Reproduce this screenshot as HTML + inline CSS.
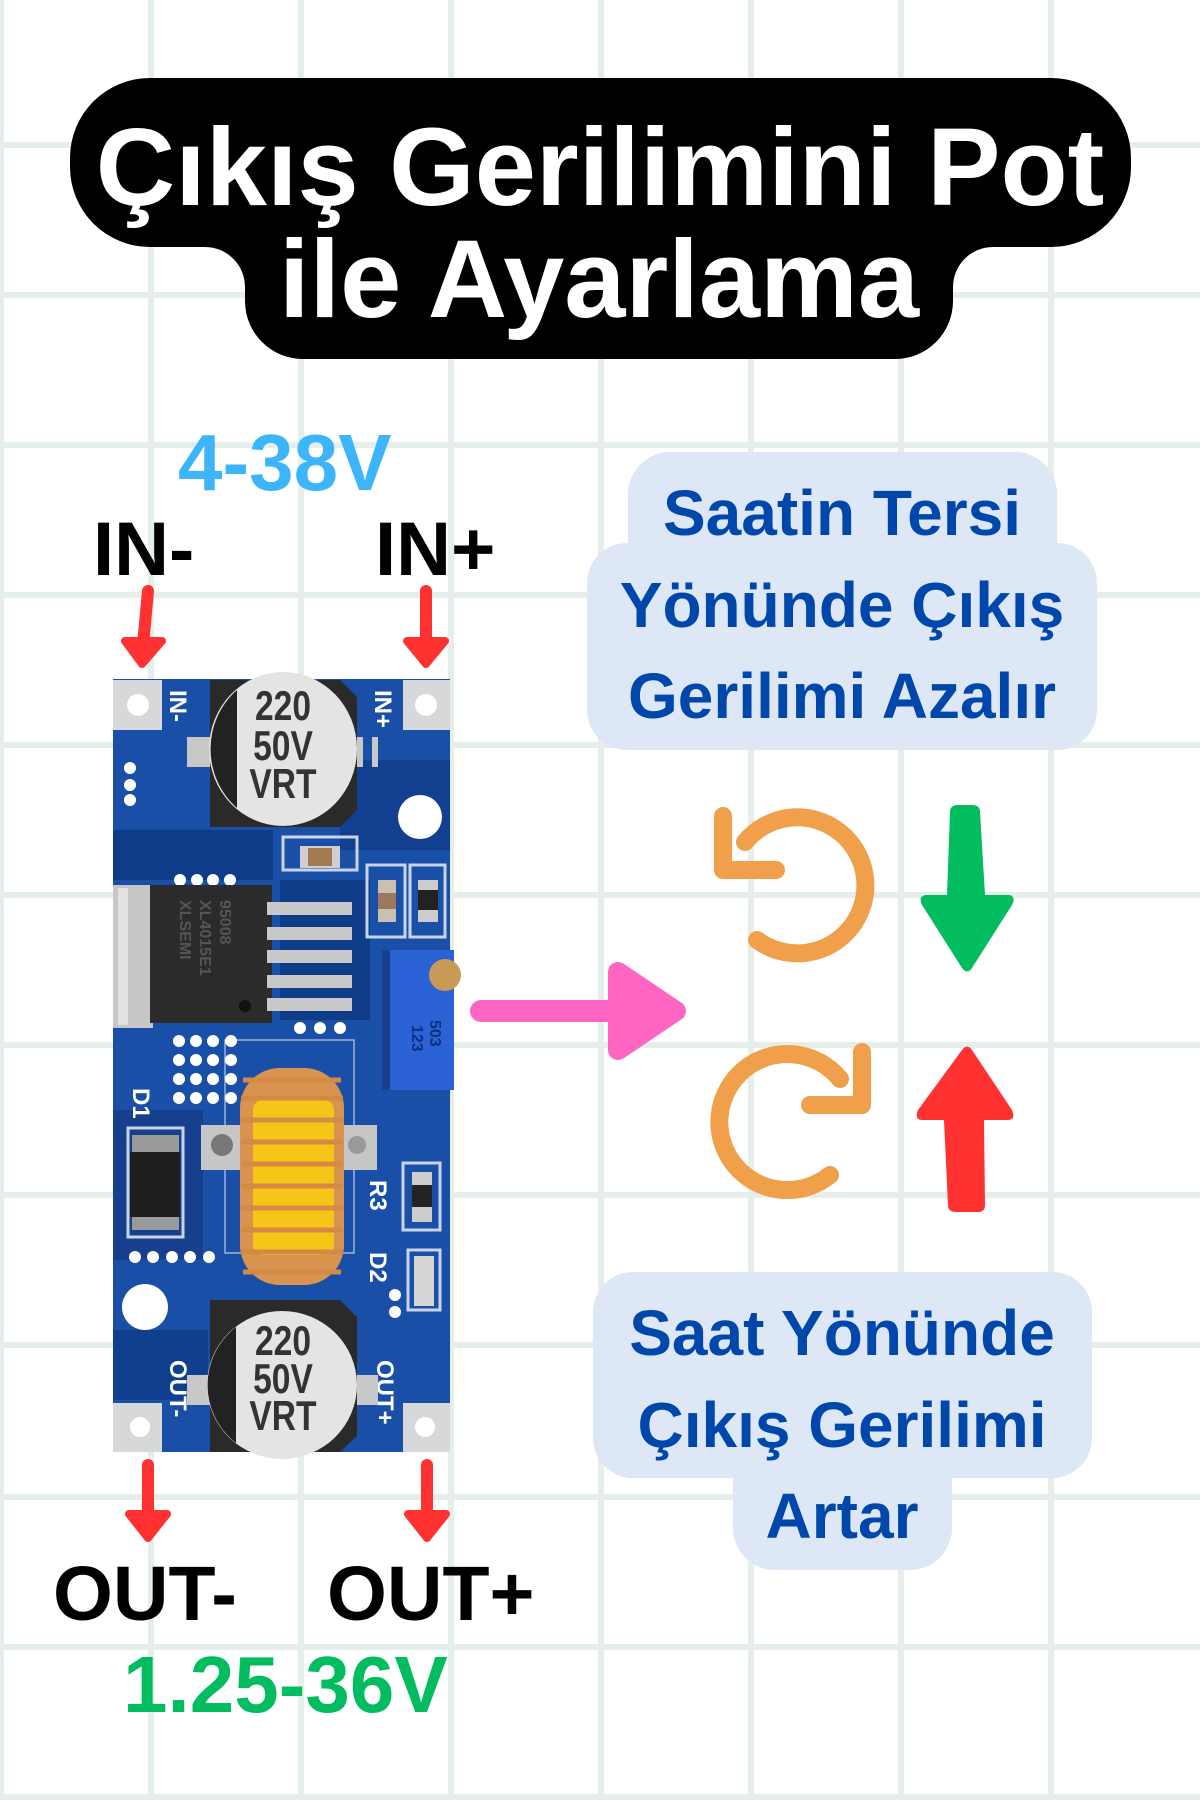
<!DOCTYPE html>
<html><head><meta charset="utf-8">
<style>
html,body{margin:0;padding:0;background:#fff;}
svg{display:block;}
text{font-family:"Liberation Sans",sans-serif;font-weight:bold;}
</style></head>
<body>
<svg width="1200" height="1800" viewBox="0 0 1200 1800" xmlns="http://www.w3.org/2000/svg">
<rect width="1200" height="1800" fill="#fff"/>
<g stroke="#e6eeea" stroke-width="6">
<line x1="1" y1="0" x2="1" y2="1800"/><line x1="151" y1="0" x2="151" y2="1800"/><line x1="301" y1="0" x2="301" y2="1800"/><line x1="451" y1="0" x2="451" y2="1800"/><line x1="601" y1="0" x2="601" y2="1800"/><line x1="751" y1="0" x2="751" y2="1800"/><line x1="901" y1="0" x2="901" y2="1800"/><line x1="1051" y1="0" x2="1051" y2="1800"/>
<line x1="0" y1="145" x2="1200" y2="145"/><line x1="0" y1="295" x2="1200" y2="295"/><line x1="0" y1="445" x2="1200" y2="445"/><line x1="0" y1="595" x2="1200" y2="595"/><line x1="0" y1="745" x2="1200" y2="745"/><line x1="0" y1="895" x2="1200" y2="895"/><line x1="0" y1="1045" x2="1200" y2="1045"/><line x1="0" y1="1195" x2="1200" y2="1195"/><line x1="0" y1="1345" x2="1200" y2="1345"/><line x1="0" y1="1497" x2="1200" y2="1497"/><line x1="0" y1="1647" x2="1200" y2="1647"/><line x1="0" y1="1797" x2="1200" y2="1797"/>
</g>

<!-- title -->
<rect x="70" y="78" width="1061" height="169" rx="80" fill="#000"/>
<rect x="245" y="200" width="708" height="159" rx="58" fill="#000"/>
<path d="M205 247 L245 247 L245 287 A40 40 0 0 0 205 247 Z" fill="#000"/>
<path d="M993 247 L953 247 L953 287 A40 40 0 0 1 993 247 Z" fill="#000"/>
<rect x="245" y="240" width="20" height="60" fill="#000"/>
<rect x="933" y="240" width="20" height="60" fill="#000"/>
<text x="600" y="205" font-size="110" fill="#fff" text-anchor="middle">Çıkış Gerilimini Pot</text>
<text x="599" y="317" font-size="110" fill="#fff" text-anchor="middle">ile Ayarlama</text>

<!-- labels -->
<text x="178" y="490" font-size="80" fill="#3db5fb">4-38V</text>
<text x="93" y="575" font-size="76" fill="#000">IN-</text>
<text x="375" y="575" font-size="76" fill="#000">IN+</text>
<text x="53" y="1620" font-size="77" fill="#000">OUT-</text>
<text x="327" y="1620" font-size="77" fill="#000">OUT+</text>
<text x="123" y="1712" font-size="80" fill="#02bd5f">1.25-36V</text>

<!-- red small arrows -->
<g fill="#ff3131" stroke="#ff3131" stroke-linejoin="round" stroke-linecap="round">
<line x1="148" y1="591" x2="143" y2="645" stroke-width="12"/>
<path d="M125 641 L162 641 L142 664 Z" stroke-width="8"/>
<line x1="426" y1="591" x2="426" y2="645" stroke-width="12"/>
<path d="M407 641 L445 641 L426 664 Z" stroke-width="8"/>
<line x1="148" y1="1465" x2="148" y2="1518" stroke-width="12"/>
<path d="M129 1514 L167 1514 L148 1538 Z" stroke-width="8"/>
<line x1="427" y1="1465" x2="427" y2="1518" stroke-width="12"/>
<path d="M408 1514 L446 1514 L427 1538 Z" stroke-width="8"/>
</g>

<!-- board -->
<g>
<rect x="113" y="679" width="337" height="773" fill="#1a4fa8"/>
<rect x="113" y="830" width="160" height="50" fill="#0e3c88"/>
<rect x="280" y="880" width="90" height="140" fill="#0e3c88"/>
<rect x="113" y="1110" width="90" height="150" fill="#163f8e"/>
<rect x="340" y="760" width="110" height="90" fill="#123f8f"/>
<rect x="113" y="1330" width="95" height="70" fill="#0f3f8d"/>
<rect x="225" y="1040" width="129" height="213" fill="none" stroke="#9fb4d8" stroke-width="1.5"/>
<g fill="#d6d8da"><rect x="113" y="680" width="49" height="50"/><rect x="403" y="680" width="47" height="50"/><rect x="113" y="1403" width="49" height="49"/><rect x="403" y="1403" width="47" height="49"/></g>
<g fill="#fff"><circle cx="138" cy="705" r="11"/><circle cx="426" cy="705" r="11"/><circle cx="140" cy="1427" r="10"/><circle cx="425" cy="1427" r="10"/>
<circle cx="420" cy="817" r="22"/><circle cx="145" cy="1307" r="23"/>
<circle cx="130" cy="768" r="6"/><circle cx="130" cy="785" r="6"/><circle cx="130" cy="800" r="6"/>
<circle cx="180" cy="880" r="6"/><circle cx="197" cy="880" r="6"/><circle cx="213" cy="880" r="6"/><circle cx="230" cy="880" r="6"/>
<circle cx="300" cy="1028" r="6"/><circle cx="320" cy="1028" r="6"/><circle cx="340" cy="1028" r="6"/>
<circle cx="179" cy="1041" r="6"/><circle cx="196" cy="1041" r="6"/><circle cx="213" cy="1041" r="6"/><circle cx="231" cy="1041" r="6"/>
<circle cx="179" cy="1060" r="6"/><circle cx="196" cy="1060" r="6"/><circle cx="213" cy="1060" r="6"/><circle cx="231" cy="1060" r="6"/>
<circle cx="179" cy="1079" r="6"/><circle cx="196" cy="1079" r="6"/><circle cx="213" cy="1079" r="6"/><circle cx="231" cy="1079" r="6"/>
<circle cx="179" cy="1098" r="6"/><circle cx="196" cy="1098" r="6"/><circle cx="213" cy="1098" r="6"/><circle cx="231" cy="1098" r="6"/>
<circle cx="135" cy="1257" r="6"/><circle cx="153" cy="1257" r="6"/><circle cx="172" cy="1257" r="6"/><circle cx="190" cy="1257" r="6"/><circle cx="209" cy="1257" r="6"/>
<circle cx="395" cy="1295" r="6"/><circle cx="395" cy="1312" r="6"/>
</g>
<g fill="#fff" font-size="24">
<text transform="translate(170,690) rotate(90)">IN-</text>
<text transform="translate(375,690) rotate(90)">IN+</text>
<text transform="translate(170,1360) rotate(90)">OUT-</text>
<text transform="translate(377,1360) rotate(90)">OUT+</text>
<text transform="translate(133,1088) rotate(90)">D1</text>
<text transform="translate(370,1180) rotate(90)">R3</text>
<text transform="translate(370,1252) rotate(90)">D2</text>
</g>
<rect x="187" y="737" width="176" height="30" fill="#c8c8c8"/>
<rect x="372" y="737" width="6" height="30" fill="#c8c8c8"/>
<path d="M210 680 L340 680 L357 697 L357 810 L340 827 L210 827 Z" fill="#2a2a2a"/>
<ellipse cx="283" cy="749" rx="74" ry="77" fill="#e4e4e2"/>
<path d="M237 690 A74 77 0 0 0 237 808 Z" fill="#222"/>
<g fill="#333" font-size="42" style="font-weight:normal">
<text x="283" y="720" text-anchor="middle" transform="translate(283,0) scale(0.8,1) translate(-283,0)">220</text>
<text x="283" y="760" text-anchor="middle" transform="translate(283,0) scale(0.8,1) translate(-283,0)">50V</text>
<text x="283" y="798" text-anchor="middle" transform="translate(283,0) scale(0.8,1) translate(-283,0)">VRT</text>
</g>
<rect x="283" y="837" width="74" height="33" fill="none" stroke="#c9d4ea" stroke-width="3"/>
<rect x="300" y="846" width="40" height="22" fill="#cfcfcf"/><rect x="308" y="848" width="24" height="18" fill="#a57a52"/>
<rect x="367" y="865" width="38" height="72" fill="none" stroke="#c9d4ea" stroke-width="3"/>
<rect x="378" y="880" width="18" height="42" fill="#c8c0b0"/><rect x="378" y="893" width="18" height="16" fill="#9a7a5a"/>
<rect x="410" y="865" width="35" height="72" fill="none" stroke="#c9d4ea" stroke-width="3"/>
<rect x="418" y="880" width="20" height="42" fill="#ccc"/><rect x="418" y="890" width="20" height="20" fill="#222"/>
<rect x="113" y="885" width="40" height="143" fill="#c7c7c7"/>
<rect x="118" y="888" width="10" height="137" fill="#e2e2e2"/>
<rect x="150" y="885" width="122" height="138" fill="#2b2b2b"/>
<circle cx="245" cy="1006" r="6" fill="#111"/>
<g fill="#c8c8c8"><rect x="267" y="902" width="85" height="13"/><rect x="267" y="927" width="85" height="13"/><rect x="267" y="950" width="85" height="13"/><rect x="267" y="975" width="85" height="13"/><rect x="267" y="998" width="85" height="13"/></g>
<g fill="#555" font-size="16" style="font-weight:normal"><text transform="translate(180,900) rotate(90)">XLSEMI</text><text transform="translate(200,900) rotate(90)">XL4015E1</text><text transform="translate(220,900) rotate(90)">95008</text></g>
<rect x="382" y="950" width="72" height="140" fill="#2b62d6"/>
<rect x="382" y="950" width="8" height="140" fill="#1a3f90"/>
<circle cx="445" cy="975" r="16" fill="#c99a55"/>
<g fill="#0c2f80" font-size="16" style="font-weight:normal"><text transform="translate(430,1020) rotate(90)">503</text><text transform="translate(412,1025) rotate(90)">123</text></g>
<rect x="128" y="1128" width="55" height="109" fill="none" stroke="#c9d4ea" stroke-width="3"/>
<rect x="132" y="1135" width="47" height="95" fill="#9a9a9a"/>
<rect x="130" y="1152" width="50" height="65" fill="#1e1e1e"/>
<rect x="403" y="1163" width="37" height="67" fill="none" stroke="#c9d4ea" stroke-width="3"/>
<rect x="412" y="1172" width="20" height="50" fill="#ccc"/><rect x="412" y="1185" width="20" height="22" fill="#222"/>
<rect x="408" y="1250" width="32" height="60" fill="none" stroke="#c9d4ea" stroke-width="3"/>
<rect x="414" y="1256" width="20" height="50" fill="#d6d6d6"/>
<rect x="201" y="1125" width="176" height="45" fill="#c6c6c6"/>
<circle cx="222" cy="1145" r="11" fill="#777"/><circle cx="357" cy="1145" r="9" fill="#999"/>
<rect x="240" y="1068" width="104" height="217" rx="40" fill="#d8944e"/>
<rect x="253" y="1100" width="81" height="155" rx="10" fill="#f5c518"/>
<g stroke="#d48a45" stroke-width="5" fill="none">
<line x1="243" y1="1080" x2="341" y2="1080"/><line x1="241" y1="1098" x2="343" y2="1098"/><line x1="241" y1="1120" x2="343" y2="1120"/><line x1="241" y1="1142" x2="343" y2="1142"/><line x1="241" y1="1164" x2="343" y2="1164"/><line x1="241" y1="1186" x2="343" y2="1186"/><line x1="241" y1="1208" x2="343" y2="1208"/><line x1="241" y1="1230" x2="343" y2="1230"/><line x1="241" y1="1252" x2="343" y2="1252"/><line x1="243" y1="1272" x2="341" y2="1272"/>
</g>
<rect x="187" y="1375" width="191" height="30" fill="#c8c8c8"/>
<path d="M210 1300 L340 1300 L357 1317 L357 1436 L340 1452 L210 1452 Z" fill="#2a2a2a"/>
<ellipse cx="282" cy="1385" rx="75" ry="74" fill="#e4e4e2"/>
<path d="M236 1327 A75 74 0 0 0 236 1443 Z" fill="#222"/>
<g fill="#333" font-size="42" style="font-weight:normal">
<text x="283" y="1355" text-anchor="middle" transform="translate(283,0) scale(0.8,1) translate(-283,0)">220</text>
<text x="283" y="1393" text-anchor="middle" transform="translate(283,0) scale(0.8,1) translate(-283,0)">50V</text>
<text x="283" y="1430" text-anchor="middle" transform="translate(283,0) scale(0.8,1) translate(-283,0)">VRT</text>
</g>
</g>

<!-- pink arrow -->
<line x1="481" y1="1011" x2="620" y2="1011" stroke="#ff66c4" stroke-width="22" stroke-linecap="round"/>
<path d="M618 972 L676 1011 L618 1050 Z" fill="#ff66c4" stroke="#ff66c4" stroke-width="20" stroke-linejoin="round"/>

<!-- blue boxes -->
<g fill="#dde7f5">
<rect x="628" y="452" width="429" height="160" rx="42"/>
<rect x="587" y="543" width="510" height="207" rx="40"/>
<rect x="593" y="1272" width="499" height="206" rx="40"/>
<rect x="733" y="1400" width="219" height="170" rx="42"/>
</g>
<g fill="#0047ab" font-size="64" text-anchor="middle">
<text x="842" y="535">Saatin Tersi</text>
<text x="842" y="627">Yönünde Çıkış</text>
<text x="842" y="718">Gerilimi Azalır</text>
<text x="842" y="1355">Saat Yönünde</text>
<text x="842" y="1447">Çıkış Gerilimi</text>
<text x="842" y="1538">Artar</text>
</g>

<!-- orange rotation arrows -->
<g stroke="#f0a04b" stroke-width="18" fill="none" stroke-linecap="round" stroke-linejoin="round">
<path d="M745 842 A68 68 0 1 1 757 940"/>
<path d="M723 816 L723 870 L776 870"/>
<path d="M840 1079 A68 68 0 1 0 830 1175"/>
<path d="M862 1052 L862 1105 L810 1105"/>
</g>

<!-- green / red big arrows -->
<path d="M950 812 Q950 805 958 805 L972 805 Q980 805 980 812 L985 895 L1010 895 Q1016 897 1012 905 L972 968 Q967 975 962 968 L922 905 Q918 897 925 895 L947 895 Z" fill="#02bd5f"/>
<path d="M962 1050 Q967 1043 972 1050 L1012 1110 Q1016 1120 1008 1120 L984 1120 L985 1205 Q985 1212 978 1212 L956 1212 Q948 1212 948 1205 L944 1120 L922 1120 Q914 1120 918 1110 Z" fill="#ff3131"/>
</svg>
</body></html>
